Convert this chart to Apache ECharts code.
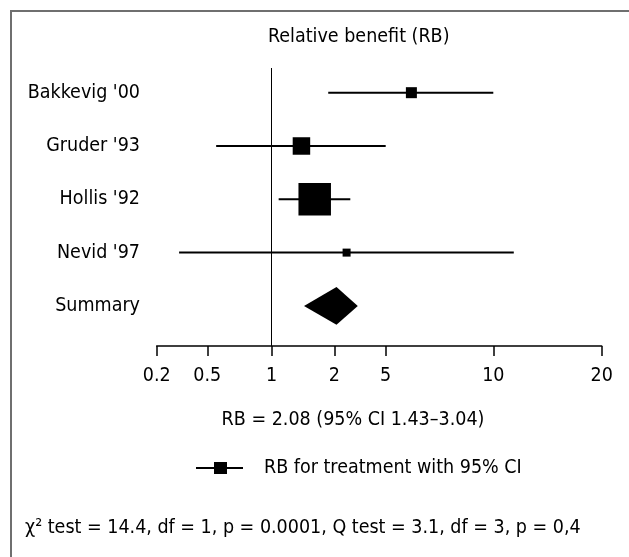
<!DOCTYPE html>
<html>
<head>
<meta charset="utf-8">
<script src="https://cdn.jsdelivr.net/npm/echarts@6/dist/echarts.min.js"></script>
<style>html,body{margin:0;padding:0;background:#fff}#c{width:629px;height:557px}</style>
</head>
<body>
<div id="c"></div>
<script>
// ---- data ----
const tickValues = [0.2, 0.5, 1, 2, 5, 10, 20];
const tickLabels = ['0.2', '0.5', '1', '2', '5', '10', '20'];
const studies = ["Bakkevig '00", "Gruder '93", "Hollis '92", "Nevid '97"];
const rb = [5.9, 1.39, 1.61, 2.49];
const ciLow = [1.87, 0.55, 1.08, 0.30];
const ciHigh = [10.0, 5.0, 2.66, 11.4];
const summaryName = 'Summary';
const summaryRB = [2.08];
const summaryLow = [1.43];
const summaryHigh = [3.04];
const titleText = 'Relative benefit (RB)';
const summaryText = 'RB = 2.08 (95% CI 1.43\u20133.04)';
const legendText = 'RB for treatment with 95% CI';
const testText = '\u03c7\u00b2 test = 14.4, df = 1, p = 0.0001, Q test = 3.1, df = 3, p = 0,4';

// ---- layout / scale (the reference uses an uneven log ruler) ----
const AXIS_STOPS = [0, 50.6, 115, 177.6, 229, 336.6, 445];
const boxSize = [11, 17.5, 32.5, 8];
const FONT = '"Liberation Sans Narrow", "Arial Narrow", "DejaVu Sans Condensed", sans-serif';
const FS = 19.5;

function toAxis(v) {
  for (let i = 0; i < tickValues.length - 1; i++) {
    const a = tickValues[i], b = tickValues[i + 1];
    if (v <= b || i === tickValues.length - 2) {
      const t = Math.log(v / a) / Math.log(b / a);
      return AXIS_STOPS[i] + t * (AXIS_STOPS[i + 1] - AXIS_STOPS[i]);
    }
  }
}

const rowNames = studies.concat([summaryName]);
const chart = echarts.init(document.getElementById('c'));

chart.setOption({
  animation: false,
  backgroundColor: '#fff',
  title: {
    text: titleText, left: 263, top: 22,
    textStyle: { fontFamily: FONT, fontSize: FS, fontWeight: 'normal', color: '#000' }
  },
  legend: {
    left: 191, top: 451, selectedMode: false,
    itemWidth: 47, itemHeight: 12,
    data: [{ name: legendText, icon: 'path://M0,5H18V0H31V5H47V7H31V12H18V7H0Z' }],
    textStyle: { fontFamily: FONT, fontSize: FS, color: '#000', padding: [0, 0, 0, 16], lineHeight: 24 }
  },
  grid: { left: 156.7, top: 68, width: 445, height: 278 },
  xAxis: {
    type: 'value', min: 0, max: 445,
    axisLine: { show: true, onZero: false, lineStyle: { color: '#000', width: 1.5 } },
    axisTick: { show: true, customValues: AXIS_STOPS, length: 10, lineStyle: { color: '#000', width: 1.5 } },
    axisLabel: {
      customValues: AXIS_STOPS, margin: 20,
      formatter: v => { const i = AXIS_STOPS.findIndex(p => Math.abs(p - v) < 1e-6); return i >= 0 ? tickLabels[i] : ''; },
      fontFamily: FONT, fontSize: FS, color: '#000'
    },
    splitLine: { show: false }
  },
  yAxis: {
    type: 'value', inverse: true, min: -0.463, max: 4.752,
    axisLine: { show: false }, axisTick: { show: false }, splitLine: { show: false },
    axisLabel: {
      customValues: [0, 1, 2, 3, 4], margin: 16.7,
      formatter: v => rowNames[Math.round(v)],
      fontFamily: FONT, fontSize: FS, color: '#000'
    }
  },
  graphic: [
    { type: 'line', shape: { x1: 10, y1: 11, x2: 629, y2: 11 }, style: { stroke: '#6f6f6f', lineWidth: 2 } },
    { type: 'line', shape: { x1: 11, y1: 10, x2: 11, y2: 557 }, style: { stroke: '#6f6f6f', lineWidth: 2 } },
    { type: 'text', x: 353, y: 420, style: { text: summaryText, fontFamily: FONT, fontSize: FS, fill: '#000', align: 'center', verticalAlign: 'middle' } },
    { type: 'text', x: 25, y: 528, style: { text: testText, fontFamily: FONT, fontSize: FS, fill: '#000', align: 'left', verticalAlign: 'middle' } }
  ],
  series: [
    {
      type: 'custom', name: 'ci',
      data: studies.map((s, i) => [toAxis(ciLow[i]), toAxis(ciHigh[i]), i]),
      encode: { x: [0, 1], y: 2 },
      renderItem: (params, api) => {
        const p1 = api.coord([api.value(0), api.value(2)]);
        const p2 = api.coord([api.value(1), api.value(2)]);
        return { type: 'line', shape: { x1: p1[0], y1: p1[1], x2: p2[0], y2: p2[1] }, style: { stroke: '#000', lineWidth: 2 } };
      },
      markLine: {
        silent: true, symbol: 'none', label: { show: false },
        lineStyle: { color: '#000', width: 1, type: 'solid' },
        data: [{ xAxis: toAxis(1) }]
      },
      z: 2
    },
    {
      type: 'scatter', name: legendText,
      data: studies.map((s, i) => [toAxis(rb[i]), i]),
      symbol: 'rect',
      symbolSize: (val, p) => boxSize[p.dataIndex],
      itemStyle: { color: '#000', opacity: 1 },
      z: 3
    },
    {
      type: 'custom', name: 'summary',
      data: summaryRB.map((v, i) => [toAxis(summaryLow[i]), toAxis(v), toAxis(summaryHigh[i]), studies.length]),
      encode: { x: [0, 2], y: 3 },
      renderItem: (params, api) => {
        const y = api.value(3), h = 0.354;
        const l = api.coord([api.value(0), y]);
        const t = api.coord([api.value(1), y - h]);
        const r = api.coord([api.value(2), y]);
        const b = api.coord([api.value(1), y + h]);
        return { type: 'polygon', shape: { points: [l, t, r, b] }, style: { fill: '#000' } };
      },
      z: 3
    }
  ]
});
</script>
</body>
</html>
